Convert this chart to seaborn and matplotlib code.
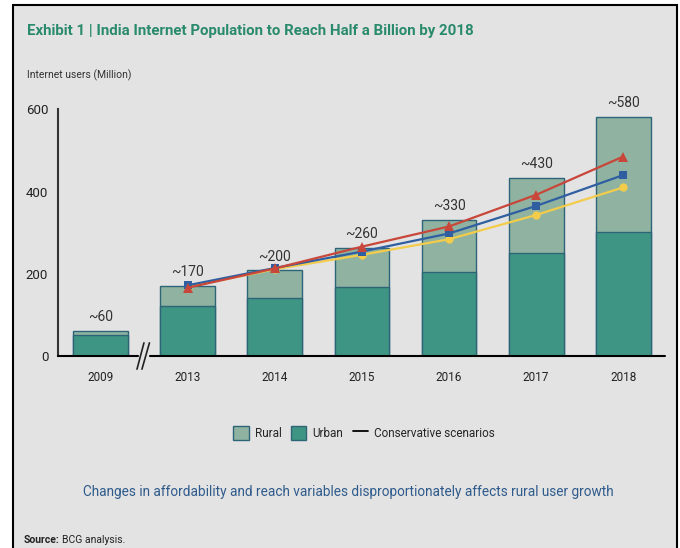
import matplotlib
matplotlib.use("Agg")
import matplotlib.pyplot as plt
import seaborn as sns
import pandas as pd
from matplotlib.patches import Rectangle, Patch
from matplotlib.lines import Line2D
import matplotlib.transforms as mtransforms

# ---- data ----
years = ["2009", "2013", "2014", "2015", "2016", "2017", "2018"]
total_users = [61, 170, 208, 263, 331, 434, 582]
urban_users = [51, 122, 140, 169, 205, 250, 301]
total_labels = ["~60", "~170", "~200", "~260", "~330", "~430", "~580"]
scenario_years = ["2013", "2014", "2015", "2016", "2017", "2018"]
scenario_high = [166, 213, 266, 315, 392, 485]
scenario_mid = [172, 214, 254, 298, 365, 440]
scenario_low = [168, 211, 246, 284, 343, 410]
yticks = [0, 200, 400, 600]

sns.set_theme(style="white")
plt.rcParams["font.family"] = ["Roboto", "DejaVu Sans"]

RURAL = "#8fb3a0"
URBAN = "#3f9583"
EDGE = "#2e6478"
BG = "#e3e3e3"

fig = plt.figure(figsize=(6.8, 5.48), dpi=100, facecolor="white")
fig.patches.append(Rectangle((13 / 680, -0.05), (677 - 13) / 680, 1.05 - 5 / 548,
                             transform=fig.transFigure, facecolor=BG,
                             edgecolor="black", lw=1.5, zorder=-10))

ax = fig.add_axes([58 / 680, 1 - 356 / 548, (665 - 58) / 680, (356 - 109.3) / 548])
ax.set_facecolor("none")

df = pd.DataFrame({"year": years, "total": total_users, "urban": urban_users})
sns.barplot(data=df, x="year", y="total", order=years, color=RURAL, saturation=1,
            width=0.63, edgecolor=EDGE, linewidth=1.0, ax=ax)
sns.barplot(data=df, x="year", y="urban", order=years, color=URBAN, saturation=1,
            width=0.63, edgecolor=EDGE, linewidth=1.0, ax=ax)

pos = [years.index(y) for y in scenario_years]
sc = pd.DataFrame({"pos": pos, "high": scenario_high, "mid": scenario_mid, "low": scenario_low})
sns.lineplot(data=sc, x="pos", y="low", color="#f2cc4a", marker="o", markersize=6,
             markeredgewidth=0, lw=1.6, ax=ax, zorder=5)
sns.lineplot(data=sc, x="pos", y="mid", color="#2f5fa0", marker="s", markersize=6,
             markeredgewidth=0, lw=1.6, ax=ax, zorder=6)
sns.lineplot(data=sc, x="pos", y="high", color="#c8463a", marker="^", markersize=7,
             markeredgewidth=0, lw=1.6, ax=ax, zorder=7)

for i, (t, lab) in enumerate(zip(total_users, total_labels)):
    ax.annotate(lab, (i, t), xytext=(0, 5), textcoords="offset points",
                ha="center", va="bottom", fontsize=10, color="#333333",
                annotation_clip=False)

ax.set_xlim(-0.49, 6.48)
ax.set_ylim(0, 600)
ax.set_yticks(yticks)
ax.set_yticklabels([str(v) for v in yticks])
ax.set_xlabel("")
ax.set_ylabel("")
ax.tick_params(axis="both", length=0, colors="#222222")
ax.tick_params(axis="y", pad=7, labelsize=9.5)
ax.tick_params(axis="x", pad=11, labelsize=8.5)

for s in ["top", "right", "bottom"]:
    ax.spines[s].set_visible(False)
ax.spines["left"].set_color("#333333")
ax.spines["left"].set_linewidth(1.5)

# x axis line with break
trans = mtransforms.blended_transform_factory(ax.transData, ax.transAxes)
ax.plot([-0.49, 0.428], [0, 0], color="black", lw=1.5, transform=trans, clip_on=False, zorder=8)
ax.plot([0.566, 6.48], [0, 0], color="black", lw=1.5, transform=trans, clip_on=False, zorder=8)
ax.plot([0.417, 0.497], [-32, 32], color="#222222", lw=1.2, clip_on=False, zorder=8)
ax.plot([0.474, 0.560], [-32, 32], color="#222222", lw=1.2, clip_on=False, zorder=8)

# texts
fig.text(27 / 680, 1 - 31 / 548, "Exhibit 1 | India Internet Population to Reach Half a Billion by 2018",
         fontsize=10.8, fontweight="bold", color="#2a8a6c", ha="left", va="center")
fig.text(27 / 680, 1 - 75 / 548, "Internet users (Million)", fontsize=7.5, color="#333333",
         ha="left", va="center")

handles = [Patch(facecolor=RURAL, edgecolor=EDGE, lw=1.0, label="Rural"),
           Patch(facecolor=URBAN, edgecolor=EDGE, lw=1.0, label="Urban"),
           Line2D([0], [0], color="black", lw=1.3, label="Conservative scenarios")]
fig.legend(handles=handles, loc="center", bbox_to_anchor=(364 / 680, 1 - 433 / 548),
           ncol=3, frameon=False, fontsize=8.5, handlelength=1.3, handleheight=1.5,
           columnspacing=0.8, handletextpad=0.5)

fig.text(348 / 680, 1 - 492 / 548,
         "Changes in affordability and reach variables disproportionately affects rural user growth",
         fontsize=9.8, color="#2f5b8c", ha="center", va="center")

t1 = fig.text(24 / 680, 1 - 540 / 548, "Source:", fontsize=7.5, fontweight="bold",
              color="#222222", ha="left", va="center")
fig.canvas.draw()
bb = t1.get_window_extent()
fig.text(bb.x1 / fig.bbox.width + 0.004, 1 - 540 / 548, "BCG analysis.", fontsize=7.5,
         color="#222222", ha="left", va="center")

fig.savefig("out.png", dpi=100, facecolor="white")
